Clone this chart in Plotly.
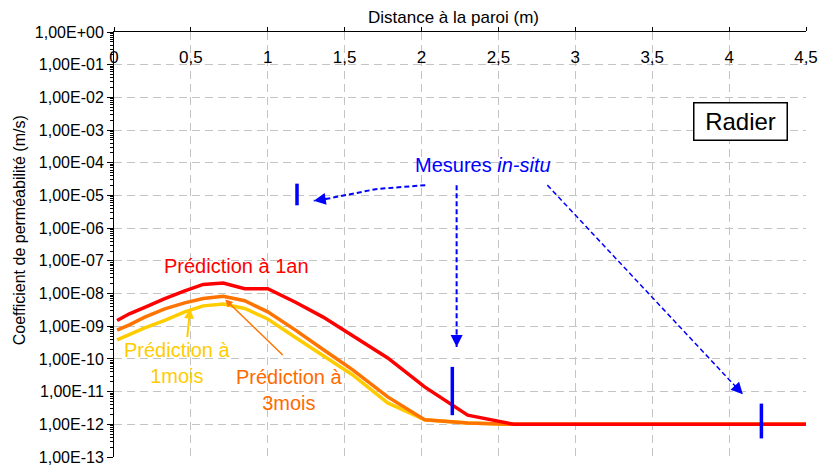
import numpy as np
import plotly.graph_objects as go

# ---------------- data ----------------
dist = [0.02, 0.1, 0.2, 0.33, 0.46, 0.58, 0.71, 0.85, 1.0, 1.18, 1.36, 1.55, 1.78, 2.02, 2.3, 2.6, 4.5]
k_1an = [1.5e-9, 2.4e-9, 3.8e-9, 7.0e-9, 1.2e-8, 1.9e-8, 2.1e-8, 1.4e-8, 1.4e-8,
         5.4e-9, 1.9e-9, 5.2e-10, 1.07e-10, 1.4e-11, 1.9e-12, 1.0e-12, 1.0e-12]
k_3mois = [7.6e-10, 1.1e-9, 1.9e-9, 3.4e-9, 5.2e-9, 7.0e-9, 8.3e-9, 6.0e-9, 2.75e-9,
           7.6e-10, 1.95e-10, 4.7e-11, 6.9e-12, 1.38e-12, 1.1e-12, 1.0e-12, 1.0e-12]
k_1mois = [3.8e-10, 5.6e-10, 8.9e-10, 1.5e-9, 2.75e-9, 4.2e-9, 4.8e-9, 3.5e-9, 1.66e-9,
           4.5e-10, 1.3e-10, 3.3e-11, 4.5e-12, 1.38e-12, 1.1e-12, 1.0e-12, 1.0e-12]

# in-situ measurements (range bars)
meas_x = [1.19, 2.20, 4.21]
meas_lo = [5.0e-6, 1.9e-12, 3.7e-13]
meas_hi = [2.3e-5, 5.7e-11, 4.3e-12]

# y tick labels
y_exps = list(range(0, -14, -1))
y_ticktext = ["1,00E+00", "1,00E-01", "1,00E-02", "1,00E-03", "1,00E-04", "1,00E-05",
              "1,00E-06", "1,00E-07", "1,00E-08", "1,00E-09", "1,00E-10", "1,00E-11",
              "1,00E-12", "1,00E-13"]

# pointer arrows (dashed) toward the measurements
arr1_x = [2.024, 1.702, 1.408, 1.299]
arr1_y = [2.07e-5, 1.56e-5, 8.3e-6, 6.85e-6]
arr2_x = [2.228, 2.228]
arr2_y = [2.07e-5, 2.33e-10]
arr3_x = [2.818, 4.089]
arr3_y = [2.07e-5, 8.3e-12]

RED = "#ff0000"
ORANGE = "#ff7300"
ORANGE_T = "#ff6a00"
YELLOW = "#ffcc00"
BLUE = "#0000ff"
FONT = "Liberation Sans, Arial, Helvetica, sans-serif"

fig = go.Figure()
fig.add_trace(go.Scatter(x=dist, y=k_1mois, mode="lines", line=dict(color=YELLOW, width=3.5)))
fig.add_trace(go.Scatter(x=dist, y=k_3mois, mode="lines", line=dict(color=ORANGE, width=3.5)))
fig.add_trace(go.Scatter(x=dist, y=k_1an, mode="lines", line=dict(color=RED, width=3.5)))

mx, my = [], []
for x, lo, hi in zip(meas_x, meas_lo, meas_hi):
    mx += [x, x, None]
    my += [lo, hi, None]
fig.add_trace(go.Scatter(x=mx, y=my, mode="lines", line=dict(color=BLUE, width=3.5)))

fig.add_trace(go.Scatter(x=arr1_x, y=arr1_y, mode="lines", line=dict(color=BLUE, width=2, dash="5px,3px")))
fig.add_trace(go.Scatter(x=arr2_x, y=arr2_y, mode="lines", line=dict(color=BLUE, width=2, dash="5px,3px")))
fig.add_trace(go.Scatter(x=arr3_x, y=arr3_y, mode="lines", line=dict(color=BLUE, width=1.5, dash="5px,3px")))

def head(x, y, ax, ay, color, w=2, size=1.2):
    fig.add_annotation(x=x, y=np.log10(y), xref="x", yref="y", text="", showarrow=True,
                       ax=ax, ay=ay, arrowhead=2, arrowsize=size, arrowwidth=w,
                       arrowcolor=color, standoff=0)

# blue arrow heads
head(arr1_x[-1], arr1_y[-1], 13.8, -2.2, BLUE)
head(arr2_x[-1], arr2_y[-1], 0, -14, BLUE)
head(arr3_x[-1], arr3_y[-1], -9.5, -10.2, BLUE, w=1.8, size=1.3)
# small label arrows
head(0.495, 10 ** -8.457, -3, 30, YELLOW, w=2, size=1.0)
head(0.723, 10 ** -8.18, 59, 57, ORANGE, w=1.5, size=1.0)

def label(x, ylog, text, color, size=20, **kw):
    fig.add_annotation(x=x, y=ylog, xref="x", yref="y", text=text, showarrow=False,
                       font=dict(color=color, size=size, family=FONT),
                       xanchor="center", yanchor="middle", **kw)

label(0.794, -7.16, "Prédiction à 1an", RED)
label(0.41, -10.13, "Prédiction à<br>1mois", YELLOW)
label(1.141, -10.96, "Prédiction à<br>3mois", ORANGE_T)
label(2.40, -4.07, "Mesures <i>in-situ</i>", BLUE)
label(4.073, -2.733, "Radier", "black", size=24, bordercolor="black", borderwidth=1.5,
      bgcolor="white", borderpad=1, width=90, height=34)

# axis titles
fig.add_annotation(x=0.490, y=1.033, xref="paper", yref="paper", text="Distance à la paroi (m)",
                   showarrow=False, font=dict(size=17, family=FONT, color="black"),
                   xanchor="center", yanchor="middle")
fig.add_annotation(x=-0.1364, y=0.5326, xref="paper", yref="paper",
                   text="Coefficient de perméabilité (m/s)", textangle=-90,
                   showarrow=False, font=dict(size=16, family=FONT, color="black"),
                   xanchor="center", yanchor="middle")

GRID = "#c4c4c4"
fig.update_layout(
    width=819, height=466,
    margin=dict(l=114, r=13, t=32, b=9),
    plot_bgcolor="white", paper_bgcolor="white",
    showlegend=False, separators=", ",
    font=dict(family=FONT, color="black"),
    xaxis=dict(side="top", range=[0, 4.5], tick0=0, dtick=0.5,
               showline=True, linecolor="black", linewidth=1,
               ticks="outside", ticklen=4, tickcolor="black",
               ticklabelposition="inside", ticklabeloverflow="allow", ticklabelstandoff=20,
               tickfont=dict(size=17, family=FONT, color="black"),
               showgrid=True, gridcolor=GRID, gridwidth=1, griddash="8px,5px",
               zeroline=False, automargin=False),
    yaxis=dict(type="log", range=[-13, 0],
               tickmode="array", tickvals=[10.0 ** e for e in y_exps], ticktext=y_ticktext,
               showline=True, linecolor="black", linewidth=1,
               ticks="outside", ticklen=6, tickcolor="black",
               minor=dict(ticks="outside", ticklen=3, dtick="D1", tickcolor="black", showgrid=False),
               tickfont=dict(size=16, family=FONT, color="black"),
               showgrid=True, gridcolor=GRID, gridwidth=1, griddash="8px,5px",
               zeroline=False, automargin=False),
)

fig.write_html("out.html", config={"displayModeBar": False},
               post_script="document.body.style.margin='0px';document.body.style.overflow='hidden';")
